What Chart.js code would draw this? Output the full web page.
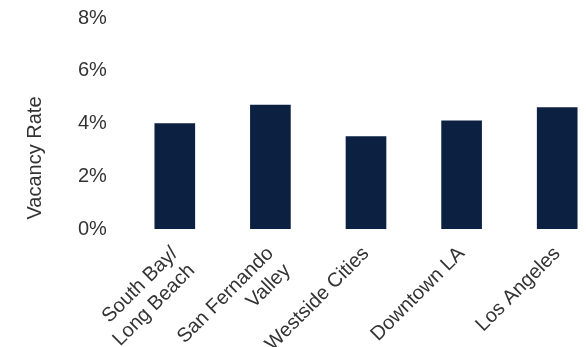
<!DOCTYPE html>
<html>
<head>
<meta charset="utf-8">
<script src="https://cdn.jsdelivr.net/npm/chart.js@4.4.0/dist/chart.umd.min.js"></script>
<style>
	html, body { margin: 0; padding: 0; background: #fff; overflow: hidden; }
	#wrap { position: relative; width: 605px; height: 347px; }
</style>
</head>
<body>
<div id="wrap"><canvas id="bar-chart"></canvas></div>
<script>
const categories = [
	["South Bay/", "Long Beach"],
	["San Fernando", "Valley"],
	"Westside Cities",
	"Downtown LA",
	"Los Angeles",
];
const vacancyRates = [4.0, 4.7, 3.5, 4.1, 4.6];
const yTicks = [0, 2, 4, 6, 8];
const yTitle = "Vacancy Rate";

const textColor = "#333333";
const barColor = "#0c2142";
const fontFamily = "'Liberation Sans', Arial, Helvetica, sans-serif";

Chart.defaults.font.family = fontFamily;
Chart.defaults.color = textColor;

// axis title drawn by hand so it sits where the original has it
const yTitlePlugin = {
	id: "yTitle",
	afterDraw(chart) {
		const ctx = chart.ctx;
		ctx.save();
		ctx.translate(35, 158);
		ctx.rotate(-Math.PI / 2);
		ctx.font = "20px " + fontFamily;
		ctx.fillStyle = textColor;
		ctx.textAlign = "center";
		ctx.textBaseline = "middle";
		ctx.fillText(yTitle, 0, 0);
		ctx.restore();
	},
};

new Chart(document.getElementById("bar-chart"), {
	type: "bar",
	data: {
		labels: categories,
		datasets: [
			{
				label: yTitle,
				data: vacancyRates,
				backgroundColor: barColor,
				barThickness: 40,
			},
		],
	},
	options: {
		responsive: true,
		maintainAspectRatio: false,
		animation: false,
		layout: { padding: { top: 18, right: 0, left: 78, bottom: 0 } },
		plugins: {
			legend: { display: false },
			tooltip: { enabled: false },
		},
		scales: {
			x: {
				grid: { display: false },
				border: { display: false },
				ticks: {
					font: { size: 20 },
					color: textColor,
					maxRotation: 45,
					minRotation: 45,
					padding: 5,
					autoSkip: false,
				},
				afterFit: (scale) => { scale.height = 118; },
			},
			y: {
				min: 0,
				max: 8,
				grid: { display: false },
				border: { display: false },
				afterBuildTicks: (scale) => {
					scale.ticks = yTicks.map((v) => ({ value: v }));
				},
				ticks: {
					font: { size: 20 },
					color: textColor,
					padding: 0,
					crossAlign: "far",
					callback: (v) => v + "%",
				},
				afterFit: (scale) => { scale.width = 49; },
			},
		},
	},
	plugins: [yTitlePlugin],
});
</script>
</body>
</html>
